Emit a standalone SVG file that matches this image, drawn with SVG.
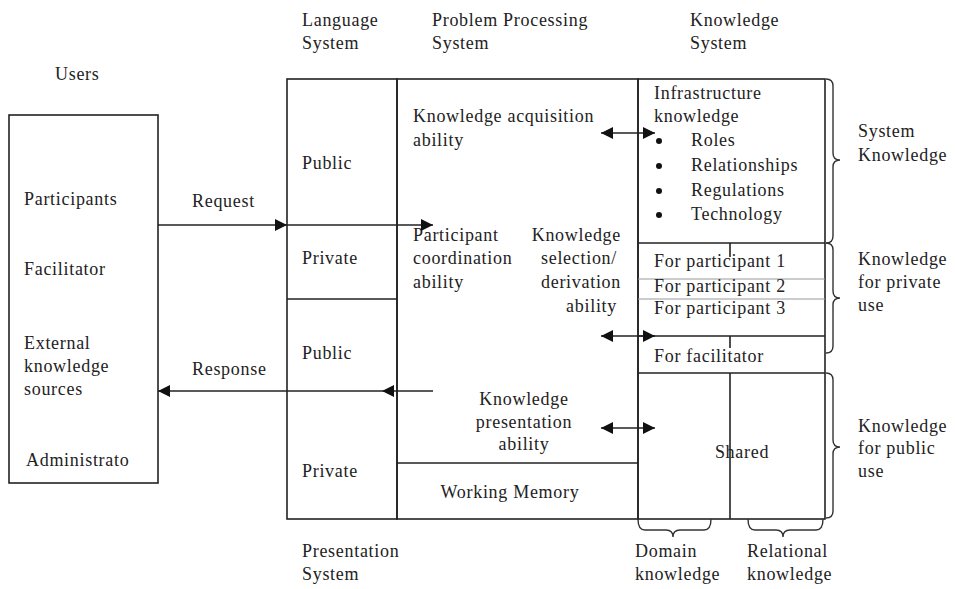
<svg xmlns="http://www.w3.org/2000/svg" width="955" height="589" viewBox="0 0 955 589">
<style>
text{font-family:"Liberation Serif","Times New Roman",serif;font-size:18px;fill:#222;letter-spacing:0.7px}
.ln{stroke:#222;stroke-width:1.6;fill:none}
.fa{stroke:#999;stroke-width:1.2;fill:none}
.br{stroke:#333;stroke-width:1.4;fill:none}
.c{text-anchor:middle}
.e{text-anchor:end}
</style>
<defs>
<marker id="ah" viewBox="0 0 10 10" refX="10" refY="5" markerWidth="15" markerHeight="12" markerUnits="userSpaceOnUse" orient="auto-start-reverse">
<path d="M0,0 L10,5 L0,10 z" fill="#111"/>
</marker>
</defs>
<rect width="955" height="589" fill="#fff"/>

<g id="headers">
<text x="302" y="26">Language</text><text x="302" y="49">System</text>
<text x="432" y="26">Problem Processing</text><text x="432" y="49">System</text>
<text x="690" y="26">Knowledge</text><text x="690" y="49">System</text>
<text x="55" y="80">Users</text>
<text x="302" y="557">Presentation</text><text x="302" y="580">System</text>
</g>

<g id="users">
<rect class="ln" x="9" y="115" width="149" height="368"/>
<text x="24" y="205">Participants</text>
<text x="24" y="275">Facilitator</text>
<text x="24" y="349">External</text><text x="24" y="372">knowledge</text><text x="24" y="395">sources</text>
<text x="26" y="466">Administrato</text>
</g>

<g id="language-system">
<rect class="ln" x="287" y="79" width="110" height="440"/>
<line class="ln" x1="287" y1="299" x2="397" y2="299"/>
<text x="302" y="169">Public</text>
<text x="302" y="264">Private</text>
<text x="302" y="359">Public</text>
<text x="302" y="477">Private</text>
</g>

<g id="problem-processing-system">
<rect class="ln" x="397" y="79" width="241" height="440"/>
<line class="ln" x1="397" y1="463" x2="638" y2="463"/>
<text x="413" y="122">Knowledge acquisition</text><text x="413" y="146">ability</text>
<text x="413" y="241">Participant</text><text x="413" y="264">coordination</text><text x="413" y="288">ability</text>
<text class="e" x="621" y="241">Knowledge</text><text class="e" x="617" y="264">selection/</text><text class="e" x="621" y="288">derivation</text><text class="e" x="617" y="312">ability</text>
<text class="c" x="524" y="405">Knowledge</text><text class="c" x="524" y="428">presentation</text><text class="c" x="524" y="450">ability</text>
<text class="c" x="510" y="498">Working Memory</text>
</g>

<g id="knowledge-system">
<rect class="ln" x="638" y="79" width="187" height="440"/>
<line class="ln" x1="638" y1="243" x2="825" y2="243"/>
<line class="fa" x1="638" y1="279" x2="825" y2="279"/>
<line class="fa" x1="638" y1="299" x2="825" y2="299"/>
<line class="ln" x1="638" y1="336" x2="825" y2="336"/>
<line class="ln" x1="638" y1="373" x2="825" y2="373"/>
<line class="ln" x1="730" y1="243" x2="730" y2="257"/>
<line class="ln" x1="730" y1="336" x2="730" y2="348"/>
<line class="ln" x1="730" y1="373" x2="730" y2="519"/>
<text x="654" y="99">Infrastructure</text><text x="654" y="122">knowledge</text>
<circle cx="659" cy="141" r="3" fill="#111"/><text x="691" y="146">Roles</text>
<circle cx="659" cy="166" r="3" fill="#111"/><text x="691" y="171">Relationships</text>
<circle cx="659" cy="191" r="3" fill="#111"/><text x="691" y="196">Regulations</text>
<circle cx="659" cy="215" r="3" fill="#111"/><text x="691" y="220">Technology</text>
<text x="654" y="267">For participant 1</text>
<text x="654" y="292">For participant 2</text>
<text x="654" y="314">For participant 3</text>
<text x="654" y="362">For facilitator</text>
<text class="c" x="742" y="458">Shared</text>
</g>

<g id="braces">
<path class="br" d="M826,79 Q833,79 833,86 L833,153 Q833,160 840,160 Q833,160 833,167 L833,236 Q833,243 826,243"/>
<path class="br" d="M826,243 Q833,243 833,250 L833,291 Q833,298 840,298 Q833,298 833,305 L833,346 Q833,353 826,353"/>
<path class="br" d="M826,373 Q833,373 833,380 L833,440 Q833,447 840,447 Q833,447 833,454 L833,511 Q833,518 826,518"/>
<path class="br" d="M638,519 Q638,530 645,530 L666,530 Q673,530 673,537 Q673,530 680,530 L704,530 Q711,530 711,519"/>
<path class="br" d="M748,519 Q748,530 755,530 L776,530 Q783,530 783,537 Q783,530 790,530 L816,530 Q823,530 823,519"/>
<text x="858" y="137">System</text><text x="858" y="161">Knowledge</text>
<text x="858" y="265">Knowledge</text><text x="858" y="288">for private</text><text x="858" y="311">use</text>
<text x="858" y="432">Knowledge</text><text x="858" y="454">for public</text><text x="858" y="477">use</text>
<text x="635" y="557">Domain</text><text x="635" y="580">knowledge</text>
<text x="747" y="557">Relational</text><text x="747" y="580">knowledge</text>
</g>

<g id="connectors">
<path class="ln" d="M158,225 L287,225" marker-end="url(#ah)"/>
<path class="ln" d="M287,225 L433,225" marker-end="url(#ah)"/>
<path class="ln" d="M433,391 L382,391" marker-end="url(#ah)"/>
<path class="ln" d="M382,391 L158,391" marker-end="url(#ah)"/>
<path class="ln" d="M601,133 L655,133" marker-start="url(#ah)" marker-end="url(#ah)"/>
<path class="ln" d="M601,336 L655,336" marker-start="url(#ah)" marker-end="url(#ah)"/>
<path class="ln" d="M601,428 L655,428" marker-start="url(#ah)" marker-end="url(#ah)"/>
<text x="192" y="207">Request</text>
<text x="192" y="375">Response</text>
</g>
</svg>
